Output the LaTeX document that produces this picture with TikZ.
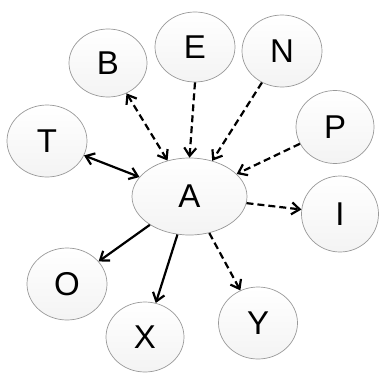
\documentclass[tikz,border=0pt]{standalone}
\usepackage{fontspec}
\setmainfont{Liberation Sans}
\usetikzlibrary{arrows.meta,shapes.geometric}
\begin{document}
\begin{tikzpicture}[x=1pt,y=-1pt,
  bub/.style={ellipse,draw=gray!80,line width=0.7pt,top color=white,bottom color=gray!9,
    inner sep=0pt,font=\fontsize{33}{33}\selectfont},
  tip/.tip={Straight Barb[length=8pt,width=12pt,line width=2.2pt]},
  con/.style={line width=2.2pt,-tip},
  bicon/.style={line width=2.2pt,tip-tip},
  dsh/.style={dash pattern=on 7pt off 4pt}]
\useasboundingbox (0,0) rectangle (379,372);
\node[bub,minimum width=115pt,minimum height=77pt] (A) at (189.5,196.5) {A};
\node[bub,minimum width=78pt,minimum height=68pt] (B) at (108,63) {B};
\node[bub,minimum width=80pt,minimum height=70pt] (E) at (195,47) {E};
\node[bub,minimum width=80pt,minimum height=72pt] (N) at (282,51) {N};
\node[bub,minimum width=80pt,minimum height=72pt] (T) at (47,141) {T};
\node[bub,minimum width=78pt,minimum height=73pt] (P) at (335,127) {P};
\node[bub,minimum width=77pt,minimum height=76pt] (I) at (340,214) {I};
\node[bub,minimum width=80pt,minimum height=72pt] (O) at (67,284) {O};
\node[bub,minimum width=78pt,minimum height=70pt] (X) at (145,337) {X};
\node[bub,minimum width=79pt,minimum height=72pt] (Y) at (258,323) {Y};
\draw[bicon] (T) -- (A);
\draw[bicon,dsh] (B) -- (A);
\draw[con,dsh] (E.south) -- (A.north);
\draw[con,dsh] (N) -- (A);
\draw[con,dsh] (P) -- (A);
\draw[con,dsh] (A) -- (I);
\draw[con] (A) -- (O);
\draw[con] (A) -- (X);
\draw[con,dsh] (A) -- (Y);
\end{tikzpicture}
\end{document}
